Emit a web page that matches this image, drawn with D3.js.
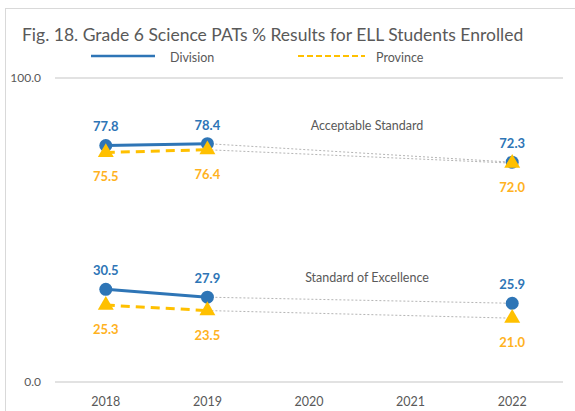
<!DOCTYPE html>
<html>
<head>
<meta charset="utf-8">
<script src="https://cdn.jsdelivr.net/npm/d3@7"></script>
<style>
  body { margin: 0; background: #fff; }
  text { font-family: Lato, "Open Sans", sans-serif; }
</style>
</head>
<body>
<div id="chart"></div>
<script>
const years = ["2018", "2019", "2020", "2021", "2022"];
const yTicks = [0, 100];

const divisionAcceptable = [77.8, 78.4, null, null, 72.3];
const provinceAcceptable = [75.5, 76.4, null, null, 72.0];
const divisionExcellence = [30.5, 27.9, null, null, 25.9];
const provinceExcellence = [25.3, 23.5, null, null, 21.0];

const W = 575, H = 411;
const blue = "#2E75B6", orange = "#FFC000", orangeText = "#FFB21E", grey = "#595959";

const svg = d3.select("#chart").append("svg")
  .attr("width", W)
  .attr("height", H);

svg.append("rect")
  .attr("x", 5.5).attr("y", 8.5)
  .attr("width", 620).attr("height", 500)
  .attr("fill", "#fff")
  .attr("stroke", "#D9D9D9");

svg.append("text")
  .attr("x", 22).attr("y", 41)
  .attr("font-size", 17.5)
  .attr("fill", grey)
  .text("Fig. 18. Grade 6 Science PATs % Results for ELL Students  Enrolled");

const x = d3.scaleBand().domain(years).range([55, 563]);
const y = d3.scaleLinear().domain([0, 100]).range([382, 78]);
const cx = d => x(d) + x.bandwidth() / 2;

// gridlines
svg.append("g").selectAll("line")
  .data(yTicks)
  .join("line")
  .attr("x1", 55).attr("x2", 563)
  .attr("y1", d => y(d)).attr("y2", d => y(d))
  .attr("stroke", "#D9D9D9").attr("stroke-width", 1.3);

svg.append("g").selectAll("text")
  .data(yTicks)
  .join("text")
  .attr("x", 41).attr("y", d => y(d) + 4)
  .attr("text-anchor", "end")
  .attr("font-size", 12)
  .attr("fill", grey)
  .text(d => d3.format(".1f")(d));

svg.append("g").selectAll("text")
  .data(years)
  .join("text")
  .attr("x", d => cx(d)).attr("y", 406)
  .attr("text-anchor", "middle")
  .attr("font-size", 12.5)
  .attr("fill", grey)
  .text(d => d);

// legend
const legend = svg.append("g");
legend.append("line").attr("x1", 91).attr("x2", 155).attr("y1", 56).attr("y2", 56)
  .attr("stroke", blue).attr("stroke-width", 2.5);
legend.append("text").attr("x", 170).attr("y", 62).attr("font-size", 12.5).attr("fill", grey).text("Division");
legend.append("line").attr("x1", 298).attr("x2", 365).attr("y1", 56).attr("y2", 56)
  .attr("stroke", orange).attr("stroke-width", 2).attr("stroke-dasharray", "6,3");
legend.append("text").attr("x", 376).attr("y", 62).attr("font-size", 12.5).attr("fill", grey).text("Province");

// annotations
svg.append("text").attr("x", 367).attr("y", 130).attr("text-anchor", "middle")
  .attr("font-size", 12.5).attr("fill", grey).text("Acceptable Standard");
svg.append("text").attr("x", 367).attr("y", 282).attr("text-anchor", "middle")
  .attr("font-size", 12.5).attr("fill", grey).text("Standard of Excellence");

const line = d3.line()
  .defined(d => d.v !== null)
  .x(d => cx(d.year))
  .y(d => y(d.v));

function drawSeries(values, opts) {
  const pts = values.map((v, i) => ({ year: years[i], v }));
  const present = pts.filter(d => d.v !== null);
  // connector across missing years
  const last2 = present.slice(-2);
  svg.append("path")
    .datum(last2)
    .attr("d", line)
    .attr("fill", "none")
    .attr("stroke", "#ABABAB")
    .attr("stroke-width", 0.9)
    .attr("stroke-dasharray", "2,2");

  svg.append("path")
    .datum(pts)
    .attr("d", line)
    .attr("fill", "none")
    .attr("stroke", opts.color)
    .attr("stroke-width", opts.width)
    .attr("stroke-dasharray", opts.dash);

  if (opts.marker === "circle") {
    svg.append("g").selectAll("circle")
      .data(present)
      .join("circle")
      .attr("cx", d => cx(d.year)).attr("cy", d => y(d.v))
      .attr("r", 6.5)
      .attr("fill", opts.color);
  } else {
    const tri = d3.symbol().type(d3.symbolTriangle).size(110);
    svg.append("g").selectAll("path")
      .data(present)
      .join("path")
      .attr("transform", d => `translate(${cx(d.year)},${y(d.v)})`)
      .attr("d", tri)
      .attr("fill", opts.color);
  }

  svg.append("g").selectAll("text")
    .data(present)
    .join("text")
    .attr("x", d => cx(d.year))
    .attr("y", d => y(d.v) + opts.labelDy)
    .attr("text-anchor", "middle")
    .attr("font-size", 13)
    .attr("font-weight", "bold")
    .attr("fill", opts.textColor)
    .text(d => d3.format(".1f")(d.v));
}

drawSeries(divisionAcceptable, { color: blue, textColor: blue, width: 3, dash: null, marker: "circle", labelDy: -14 });
drawSeries(provinceAcceptable, { color: orange, textColor: orangeText, width: 3, dash: "9,6", marker: "triangle", labelDy: 29 });
drawSeries(divisionExcellence, { color: blue, textColor: blue, width: 3, dash: null, marker: "circle", labelDy: -14 });
drawSeries(provinceExcellence, { color: orange, textColor: orangeText, width: 3, dash: "9,6", marker: "triangle", labelDy: 29 });
</script>
</body>
</html>
